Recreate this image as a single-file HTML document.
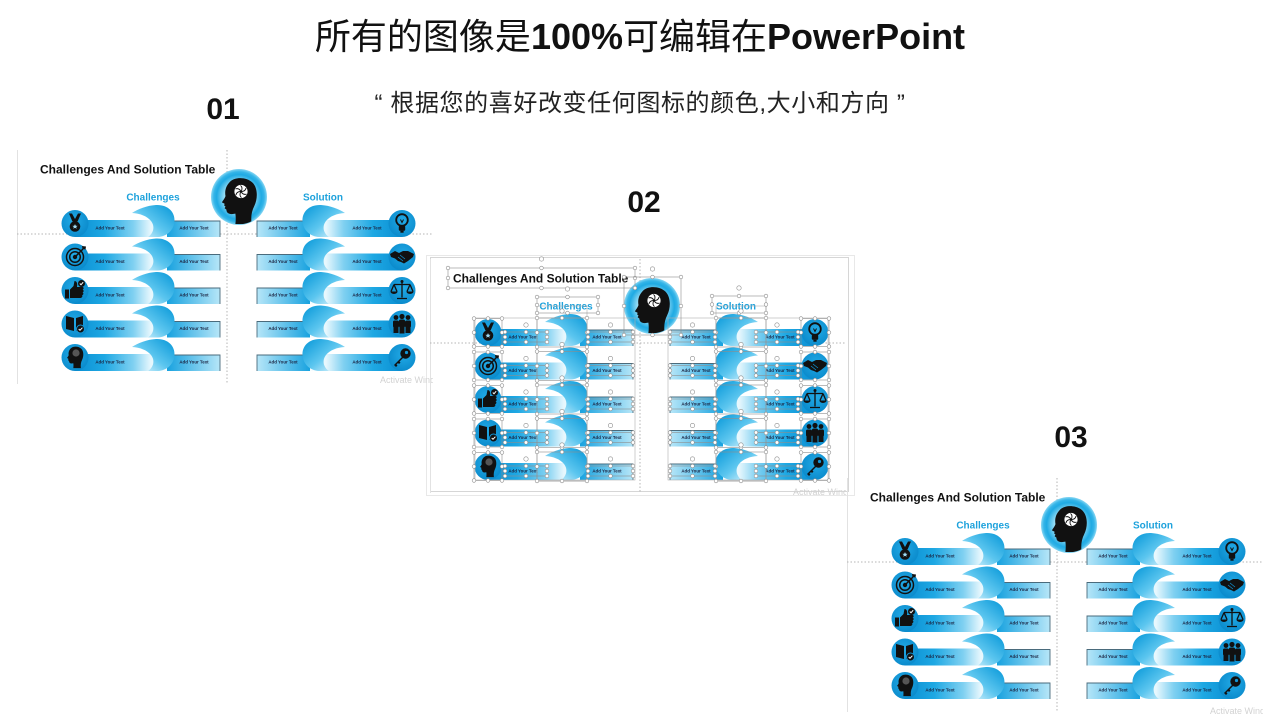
<!DOCTYPE html>
<html><head><meta charset="utf-8">
<style>
html,body{margin:0;padding:0;background:#fff;}
body{width:1280px;height:720px;position:relative;overflow:hidden;font-family:"Liberation Sans","Noto Sans CJK SC",sans-serif;}
.t{position:absolute;left:0;width:1280px;text-align:center;white-space:nowrap;color:#111;}
.num{position:absolute;width:80px;text-align:center;font-weight:bold;font-size:30px;line-height:30px;color:#111;font-family:"Liberation Sans",sans-serif;}
svg{position:absolute;left:0;top:0;}
</style></head><body>
<svg width="1280" height="720" viewBox="0 0 1280 720" xmlns="http://www.w3.org/2000/svg" xmlns:xlink="http://www.w3.org/1999/xlink">
<defs>
 <linearGradient id="gBand" x1="0" y1="0" x2="1" y2="0">
  <stop offset="0" stop-color="#0a8ed2"/><stop offset="0.3" stop-color="#1ea8e3"/><stop offset="0.6" stop-color="#7fd0f1"/><stop offset="0.78" stop-color="#e6f7fd"/><stop offset="1" stop-color="#ffffff"/>
 </linearGradient>
 <linearGradient id="gRect" x1="0" y1="0" x2="1" y2="0">
  <stop offset="0" stop-color="#18a2df"/><stop offset="1" stop-color="#b6e6f8"/>
 </linearGradient>
 <linearGradient id="gCurl" x1="1" y1="0.2" x2="0.1" y2="1">
  <stop offset="0" stop-color="#149fdc"/><stop offset="0.5" stop-color="#5cc6ef"/><stop offset="1" stop-color="#e8f8fe"/>
 </linearGradient>
 <radialGradient id="gIc" cx="0.45" cy="0.4" r="0.6">
  <stop offset="0" stop-color="#22aae6"/><stop offset="1" stop-color="#0b8bcc"/>
 </radialGradient>
 <radialGradient id="gHead" cx="0.5" cy="0.5" r="0.5">
  <stop offset="0" stop-color="#e8f9fe"/><stop offset="0.5" stop-color="#9fe0f6"/><stop offset="0.8" stop-color="#1faae3"/><stop offset="0.9" stop-color="#35b5e8"/><stop offset="1" stop-color="#86d6f3"/>
 </radialGradient>
 <clipPath id="cpHead"><circle cx="0" cy="0" r="27.3"/></clipPath>
 <clipPath id="cpPanel"><rect x="0" y="0" width="416" height="236"/></clipPath>

 <path id="headP" d="M14,30 C13,22 14,16 17,10 C21,2 21,-10 15,-16 C9,-22 -4,-23 -10,-17 C-15,-12 -16,-6 -15,-1 C-16,2 -18,4 -19,6 L-16,7.5 L-16.5,9.5 L-15,10.5 L-16,12.5 L-14,14 C-14,17 -12,19 -8,19 L-4,18.5 C-3.5,22 -3.5,26 -4,30 Z"/>

 <g id="rowL">
  <rect x="58" y="70" width="97" height="17" fill="url(#gBand)"/>
  <circle cx="58" cy="73.5" r="13.5" fill="url(#gIc)"/>
  <rect x="150" y="71" width="53" height="16" fill="url(#gRect)"/>
  <path d="M150,71 H203 V87" fill="none" stroke="#4a6b7c" stroke-width="0.9"/>
  <path d="M115,63 C121,59 130,55.5 139,55 C151,54.5 158,62 157.5,71 C157,80 150,86.5 141,87 L131,87 C137,83 138,76 134,71 C130,66 123,63.5 115,63 Z" fill="url(#gCurl)"/>
 </g>

 <g id="panel">
  <line x1="0.5" y1="0" x2="0.5" y2="234" stroke="#e2e2e2" stroke-width="1"/>
  <line x1="0" y1="84" x2="415" y2="84" stroke="#b5b5b5" stroke-width="1" stroke-dasharray="1.5 2"/>
  <line x1="210" y1="0" x2="210" y2="234" stroke="#b5b5b5" stroke-width="1" stroke-dasharray="1.5 2"/>
  <use href="#rowL"/>
  <use href="#rowL" y="33.5"/>
  <use href="#rowL" y="67"/>
  <use href="#rowL" y="100.5"/>
  <use href="#rowL" y="134"/>
  <g transform="translate(443,0) scale(-1,1)">
   <use href="#rowL"/>
   <use href="#rowL" y="33.5"/>
   <use href="#rowL" y="67"/>
   <use href="#rowL" y="100.5"/>
   <use href="#rowL" y="134"/>
  </g>
  <!-- left icons -->
  <g transform="translate(58,73.5)" fill="#111">
   <path d="M-6,-10 L-2.6,-2 L2.6,-2 L6,-10 L3,-10 L0,-4.5 L-3,-10Z"/>
   <circle cy="3" r="5.3"/>
   <path d="M0,0.6 L0.8,2.3 L2.6,2.4 L1.2,3.5 L1.7,5.3 L0,4.3 L-1.7,5.3 L-1.2,3.5 L-2.6,2.4 L-0.8,2.3Z" fill="#9fdcf5"/>
  </g>
  <g transform="translate(58,107)">
   <g fill="none" stroke="#111" stroke-width="1.5"><circle r="8.5"/><circle r="5.3"/><path d="M0,0 L8,-8"/></g>
   <circle r="2.2" fill="#111"/>
   <path d="M7,-11 L7.5,-8 L10.5,-7.5 L11,-10.5Z" fill="#111"/>
  </g>
  <g transform="translate(58,140.5)" fill="#111">
   <rect x="-10" y="-1" width="4" height="9"/>
   <path d="M-5,-1 L-1.5,-4.5 L-0.5,-9.5 C1.5,-9.5 2.8,-7.5 2,-3.5 L7.5,-3.5 C9,-3.5 9,-1 7.5,-1 C9,-0.5 9,1.5 7.5,2 C9,2.5 8.5,4.5 7,4.8 C8,5.5 7,7.5 5.5,7.5 L-5,7.5Z"/>
   <circle cx="6.5" cy="-7" r="3.5"/>
   <path d="M4.8,-7 L6,-5.7 L8.2,-8.3" stroke="#fff" stroke-width="1" fill="none"/>
  </g>
  <g transform="translate(58,174)">
   <path d="M-9,-8 L-1,-6 L-1,7 L-9,5Z M1,-6 L8,-8 L8,2 L1,7Z" fill="#111"/>
   <circle cx="5.5" cy="5" r="4" fill="#111" stroke="#1396d6" stroke-width="1"/>
   <path d="M3.7,5 L5,6.3 L7.4,3.7" stroke="#fff" stroke-width="1" fill="none"/>
  </g>
  <g transform="translate(58,207.5)">
   <use href="#headP" transform="translate(0,-2) scale(0.42)" fill="#111"/>
   <circle cx="1" cy="-4.5" r="3.6" fill="#555"/>
  </g>
  <!-- right icons -->
  <g transform="translate(385,73.5)">
   <circle cy="-3.5" r="5.8" fill="none" stroke="#111" stroke-width="1.8"/>
   <path d="M-1.5,-4 L0,-1 L1.5,-4" stroke="#111" fill="none" stroke-width="1"/>
   <rect x="-3.2" y="2.2" width="6.4" height="5" rx="1" fill="#111"/>
   <rect x="-1.6" y="7.2" width="3.2" height="2" fill="#111"/>
  </g>
  <g transform="translate(385,107)" fill="#111">
   <path d="M-12,-3 L-7,-6 L-3,-4 L1,-6 L6,-6 L12,-3 L11,0 L6,4 L2,6.5 L-1,5 L-4,4 L-7,1.5 L-11,0Z"/>
   <path d="M-2,-2 L3,2 M-4,0 L1,4" stroke="#1396d6" stroke-width="0.7"/>
  </g>
  <g transform="translate(385,140.5)">
   <g stroke="#111" stroke-width="1.3" fill="none"><path d="M0,-9 V7 M-8,-6 H8 M-5,8 H5"/><path d="M-8,-6 L-11,1 M-8,-6 L-5,1 M8,-6 L5,1 M8,-6 L11,1"/></g>
   <path d="M-11.5,1 H-4.5 A3.5,2.5 0 0 1 -11.5,1Z M4.5,1 H11.5 A3.5,2.5 0 0 1 4.5,1Z" fill="#111"/>
   <circle cy="-9" r="1.5" fill="#111"/>
  </g>
  <g transform="translate(385,174)" fill="#111">
   <circle cx="-6" cy="-6.5" r="2.4"/><circle cx="0" cy="-7.5" r="2.6"/><circle cx="6" cy="-6.5" r="2.4"/>
   <rect x="-9" y="-3.5" width="6" height="7" rx="1.5"/><rect x="-3" y="-4.5" width="6" height="8" rx="1.5"/><rect x="3" y="-3.5" width="6" height="7" rx="1.5"/>
   <rect x="-8.5" y="3" width="5" height="6"/><rect x="-2.5" y="3" width="5" height="6.5"/><rect x="3.5" y="3" width="5" height="6"/>
  </g>
  <g transform="translate(385,207.5)" fill="#111">
   <circle cx="3.5" cy="-4" r="5.2"/>
   <circle cx="4.5" cy="-5" r="1.6" fill="#1396d6"/>
   <path d="M1,-1.5 L-8,7.5 L-6,9.5 L-4.5,8 L-5.5,7 L-4,5.5 L-3,6.5 L-1.5,5 L-2.5,4 L3.5,-2Z"/>
  </g>
  <!-- big head -->
  <g transform="translate(222,47)">
   <circle r="28" fill="url(#gHead)"/>
   <g clip-path="url(#cpHead)"><use href="#headP" transform="scale(0.9)" fill="#111"/></g>
   <g transform="translate(2,-5.5)">
    <circle r="6.6" fill="#fff"/>
    <g fill="none" stroke="#111" stroke-width="0.9">
     <path d="M1.2,0 Q4.5,-0.5 5,-3.5"/>
     <path d="M1.2,0 Q4.5,-0.5 5,-3.5" transform="rotate(60)"/>
     <path d="M1.2,0 Q4.5,-0.5 5,-3.5" transform="rotate(120)"/>
     <path d="M1.2,0 Q4.5,-0.5 5,-3.5" transform="rotate(180)"/>
     <path d="M1.2,0 Q4.5,-0.5 5,-3.5" transform="rotate(240)"/>
     <path d="M1.2,0 Q4.5,-0.5 5,-3.5" transform="rotate(300)"/>
    </g>
    <circle r="1.3" fill="#111"/>
   </g>
  </g>
 </g>

 <!-- selection handle boxes -->
 <g id="bT"><rect width="42" height="10" fill="none"/><circle r="1.8"/><circle cx="21" r="1.8"/><circle cx="42" r="1.8"/><circle cy="5" r="1.8"/><circle cx="42" cy="5" r="1.8"/><circle cy="10" r="1.8"/><circle cx="21" cy="10" r="1.8"/><circle cx="42" cy="10" r="1.8"/><circle cx="21" cy="-7" r="2.2"/></g>
 <g id="bR"><rect width="45" height="10" fill="none"/><circle r="1.8"/><circle cx="22.5" r="1.8"/><circle cx="45" r="1.8"/><circle cy="5" r="1.8"/><circle cx="45" cy="5" r="1.8"/><circle cy="10" r="1.8"/><circle cx="22.5" cy="10" r="1.8"/><circle cx="45" cy="10" r="1.8"/><circle cx="22.5" cy="-7" r="2.2"/></g>
 <g id="bI"><rect width="28" height="28" fill="none"/><circle r="1.8"/><circle cx="14" r="1.8"/><circle cx="28" r="1.8"/><circle cy="14" r="1.8"/><circle cx="28" cy="14" r="1.8"/><circle cy="28" r="1.8"/><circle cx="14" cy="28" r="1.8"/><circle cx="28" cy="28" r="1.8"/></g>
 <g id="bC"><rect width="50" height="29" fill="none"/><circle r="1.8"/><circle cx="25" r="1.8"/><circle cx="50" r="1.8"/><circle cy="14.5" r="1.8"/><circle cx="50" cy="14.5" r="1.8"/><circle cy="29" r="1.8"/><circle cx="25" cy="29" r="1.8"/><circle cx="50" cy="29" r="1.8"/><circle cx="25" cy="-7" r="2.2"/></g>
 <g id="hRowL"><use href="#bI" x="44" y="59.5"/><use href="#bT" x="75" y="73"/><use href="#bC" x="107" y="59"/><use href="#bR" x="158" y="73"/></g>
</defs>

<!-- Panel 2 frame -->
<rect x="426.5" y="255.5" width="428" height="240" fill="#fff" stroke="#e8e8e8" stroke-width="1"/>
<rect x="430.5" y="257.5" width="418" height="234" fill="#fff" stroke="#d6d6d6" stroke-width="1"/>

<!-- Panel 1 -->
<g transform="translate(17,150)">
 <g clip-path="url(#cpPanel)">
  <use href="#panel"/>
  <g font-family="Liberation Sans, sans-serif" font-weight="bold">
   <text x="23" y="23.3" font-size="12" fill="#111">Challenges And Solution Table</text>
   <text x="136" y="50.5" font-size="10" fill="#1ea2dc" text-anchor="middle">Challenges</text>
   <text x="306" y="50.5" font-size="10" fill="#1ea2dc" text-anchor="middle">Solution</text>
   <g font-size="4.4" fill="#1c2340" text-anchor="middle">
    <text x="93" y="79.6">Add Your Text</text><text x="177" y="79.6">Add Your Text</text><text x="266" y="79.6">Add Your Text</text><text x="350" y="79.6">Add Your Text</text>
    <text x="93" y="113.1">Add Your Text</text><text x="177" y="113.1">Add Your Text</text><text x="266" y="113.1">Add Your Text</text><text x="350" y="113.1">Add Your Text</text>
    <text x="93" y="146.6">Add Your Text</text><text x="177" y="146.6">Add Your Text</text><text x="266" y="146.6">Add Your Text</text><text x="350" y="146.6">Add Your Text</text>
    <text x="93" y="180.1">Add Your Text</text><text x="177" y="180.1">Add Your Text</text><text x="266" y="180.1">Add Your Text</text><text x="350" y="180.1">Add Your Text</text>
    <text x="93" y="213.6">Add Your Text</text><text x="177" y="213.6">Add Your Text</text><text x="266" y="213.6">Add Your Text</text><text x="350" y="213.6">Add Your Text</text>
   </g>
   <text x="363" y="233" font-size="9" font-weight="normal" fill="#d2d2d2">Activate Windows</text>
  </g>
 </g>
</g>

<!-- Panel 2 -->
<g transform="translate(430,259)">
 <g clip-path="url(#cpPanel)">
  <use href="#panel"/>
  <g font-family="Liberation Sans, sans-serif" font-weight="bold">
   <text x="23" y="23.3" font-size="12" fill="#111">Challenges And Solution Table</text>
   <text x="136" y="50.5" font-size="10" fill="#1ea2dc" text-anchor="middle">Challenges</text>
   <text x="306" y="50.5" font-size="10" fill="#1ea2dc" text-anchor="middle">Solution</text>
   <g font-size="4.4" fill="#1c2340" text-anchor="middle">
    <text x="93" y="79.6">Add Your Text</text><text x="177" y="79.6">Add Your Text</text><text x="266" y="79.6">Add Your Text</text><text x="350" y="79.6">Add Your Text</text>
    <text x="93" y="113.1">Add Your Text</text><text x="177" y="113.1">Add Your Text</text><text x="266" y="113.1">Add Your Text</text><text x="350" y="113.1">Add Your Text</text>
    <text x="93" y="146.6">Add Your Text</text><text x="177" y="146.6">Add Your Text</text><text x="266" y="146.6">Add Your Text</text><text x="350" y="146.6">Add Your Text</text>
    <text x="93" y="180.1">Add Your Text</text><text x="177" y="180.1">Add Your Text</text><text x="266" y="180.1">Add Your Text</text><text x="350" y="180.1">Add Your Text</text>
    <text x="93" y="213.6">Add Your Text</text><text x="177" y="213.6">Add Your Text</text><text x="266" y="213.6">Add Your Text</text><text x="350" y="213.6">Add Your Text</text>
   </g>
   <text x="363" y="236" font-size="9" font-weight="normal" fill="#d2d2d2">Activate Windows</text>
  </g>
 </g>
 <!-- selection handles overlay -->
 <g fill="#fff" stroke="#8e8e8e" stroke-width="0.6">
  <rect x="45" y="59" width="160" height="162" fill="none" stroke="#b0b0b0"/>
  <rect x="238" y="59" width="160" height="162" fill="none" stroke="#b0b0b0"/>
  <rect x="107" y="47" width="50" height="175" fill="none" stroke="#b0b0b0"/>
  <rect x="286" y="47" width="50" height="175" fill="none" stroke="#b0b0b0"/>
  <rect x="18" y="9" width="187" height="20" fill="none"/>
  <circle cx="18" cy="9" r="1.8"/><circle cx="111.5" cy="9" r="1.8"/><circle cx="205" cy="9" r="1.8"/><circle cx="18" cy="19" r="1.8"/><circle cx="205" cy="19" r="1.8"/><circle cx="18" cy="29" r="1.8"/><circle cx="111.5" cy="29" r="1.8"/><circle cx="205" cy="29" r="1.8"/><circle cx="111.5" cy="0" r="2.2"/>
  <rect x="107" y="38" width="61" height="16" fill="none"/>
  <circle cx="107" cy="38" r="1.8"/><circle cx="137.5" cy="38" r="1.8"/><circle cx="168" cy="38" r="1.8"/><circle cx="107" cy="46" r="1.8"/><circle cx="168" cy="46" r="1.8"/><circle cx="107" cy="54" r="1.8"/><circle cx="137.5" cy="54" r="1.8"/><circle cx="168" cy="54" r="1.8"/><circle cx="137.5" cy="30" r="2.2"/>
  <rect x="282" y="37" width="54" height="17" fill="none"/>
  <circle cx="282" cy="37" r="1.8"/><circle cx="309" cy="37" r="1.8"/><circle cx="336" cy="37" r="1.8"/><circle cx="282" cy="45.5" r="1.8"/><circle cx="336" cy="45.5" r="1.8"/><circle cx="282" cy="54" r="1.8"/><circle cx="309" cy="54" r="1.8"/><circle cx="336" cy="54" r="1.8"/><circle cx="309" cy="29" r="2.2"/>
  <rect x="194" y="18" width="57" height="58" fill="none"/>
  <circle cx="194" cy="18" r="1.8"/><circle cx="222.5" cy="18" r="1.8"/><circle cx="251" cy="18" r="1.8"/><circle cx="194" cy="47" r="1.8"/><circle cx="251" cy="47" r="1.8"/><circle cx="194" cy="76" r="1.8"/><circle cx="222.5" cy="76" r="1.8"/><circle cx="251" cy="76" r="1.8"/><circle cx="222.5" cy="10" r="2.2"/>
  <use href="#hRowL"/>
  <use href="#hRowL" y="33.5"/>
  <use href="#hRowL" y="67"/>
  <use href="#hRowL" y="100.5"/>
  <use href="#hRowL" y="134"/>
  <g transform="translate(443,0) scale(-1,1)">
   <use href="#hRowL"/>
   <use href="#hRowL" y="33.5"/>
   <use href="#hRowL" y="67"/>
   <use href="#hRowL" y="100.5"/>
   <use href="#hRowL" y="134"/>
  </g>
 </g>
</g>

<!-- Panel 3 -->
<g transform="translate(847,478)">
 <g clip-path="url(#cpPanel)">
  <use href="#panel"/>
  <g font-family="Liberation Sans, sans-serif" font-weight="bold">
   <text x="23" y="23.3" font-size="12" fill="#111">Challenges And Solution Table</text>
   <text x="136" y="50.5" font-size="10" fill="#1ea2dc" text-anchor="middle">Challenges</text>
   <text x="306" y="50.5" font-size="10" fill="#1ea2dc" text-anchor="middle">Solution</text>
   <g font-size="4.4" fill="#1c2340" text-anchor="middle">
    <text x="93" y="79.6">Add Your Text</text><text x="177" y="79.6">Add Your Text</text><text x="266" y="79.6">Add Your Text</text><text x="350" y="79.6">Add Your Text</text>
    <text x="93" y="113.1">Add Your Text</text><text x="177" y="113.1">Add Your Text</text><text x="266" y="113.1">Add Your Text</text><text x="350" y="113.1">Add Your Text</text>
    <text x="93" y="146.6">Add Your Text</text><text x="177" y="146.6">Add Your Text</text><text x="266" y="146.6">Add Your Text</text><text x="350" y="146.6">Add Your Text</text>
    <text x="93" y="180.1">Add Your Text</text><text x="177" y="180.1">Add Your Text</text><text x="266" y="180.1">Add Your Text</text><text x="350" y="180.1">Add Your Text</text>
    <text x="93" y="213.6">Add Your Text</text><text x="177" y="213.6">Add Your Text</text><text x="266" y="213.6">Add Your Text</text><text x="350" y="213.6">Add Your Text</text>
   </g>
   <text x="363" y="236" font-size="9" font-weight="normal" fill="#d2d2d2">Activate Windows</text>
  </g>
 </g>
</g>
</svg>

<div class="t" style="top:18px;font-size:36px;line-height:38px;">所有的图像是<b>100%</b>可编辑在<b>PowerPoint</b></div>
<div class="t" style="top:92px;font-size:24px;line-height:24px;letter-spacing:0.6px;color:#222;">“ 根据您的喜好改变任何图标的颜色,大小和方向 ”</div>
<div class="num" style="left:183px;top:95px;">01</div>
<div class="num" style="left:604px;top:188px;">02</div>
<div class="num" style="left:1031px;top:423px;">03</div>
</body></html>
